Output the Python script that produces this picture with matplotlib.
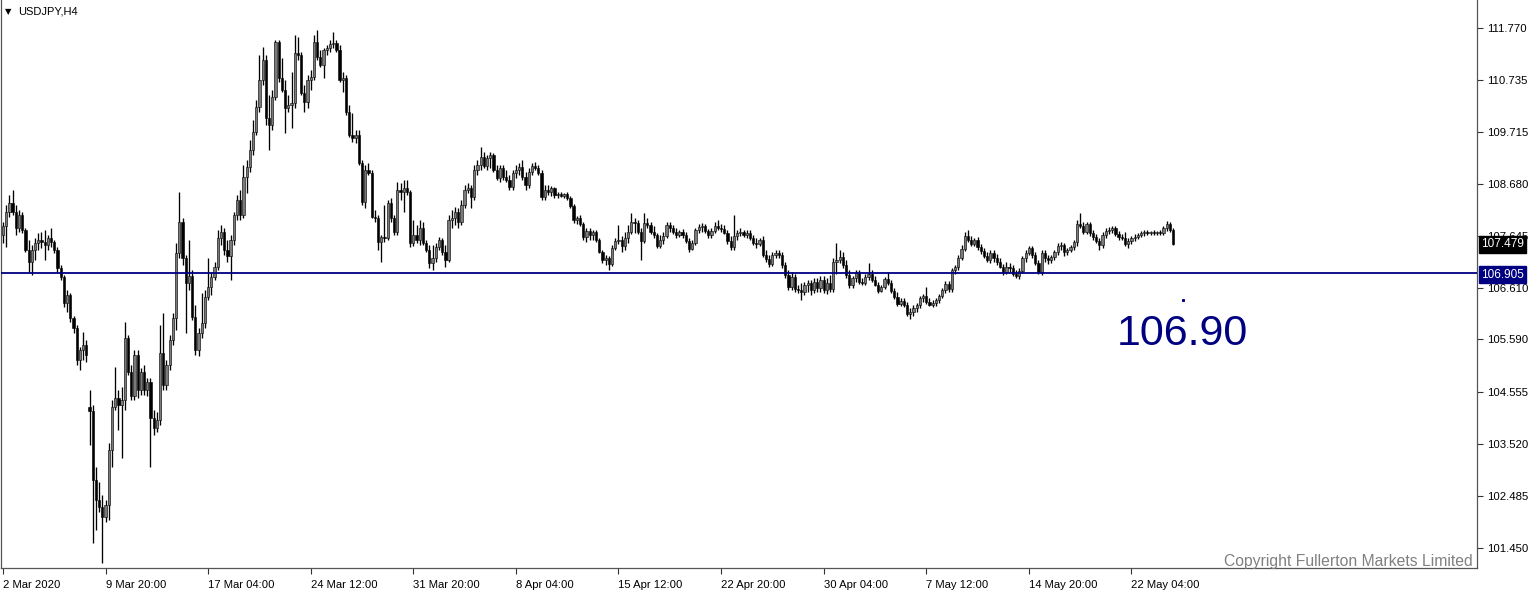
import matplotlib
matplotlib.use("Agg")
import matplotlib.pyplot as plt
from matplotlib.transforms import blended_transform_factory
import numpy as np

symbol_title = "USDJPY,H4"

opens = [
 107.66, 107.84, 108.12, 108.30, 108.12, 107.80, 108.06, 107.76, 107.36, 107.13,
 107.36, 107.50, 107.56, 107.52, 107.46, 107.60, 107.52, 107.36, 107.01, 106.83,
 106.31, 106.47, 106.01, 105.82, 105.18, 105.38, 105.48, 104.25, 104.17, 102.80,
 102.40, 102.26, 102.07, 102.30, 103.40, 104.25, 104.43, 104.29, 104.39, 105.62,
 104.94, 104.47, 105.28, 104.59, 104.94, 104.59, 104.74, 104.03, 103.83, 103.99,
 105.32, 104.69, 105.08, 105.58, 106.01, 107.30, 107.92, 107.21, 106.71, 106.85,
 106.03, 105.38, 105.72, 105.92, 106.43, 106.63, 106.83, 107.03, 107.60, 107.72,
 107.36, 107.25, 107.56, 108.06, 108.36, 108.06, 108.81, 109.01, 109.35, 109.71,
 110.20, 110.74, 111.14, 109.98, 109.85, 110.40, 111.49, 110.78, 110.54, 110.18,
 110.24, 110.28, 111.27, 111.23, 110.48, 110.30, 110.74, 110.80, 111.49, 111.19,
 111.04, 111.33, 111.37, 111.45, 111.47, 111.33, 110.74, 110.78, 110.10, 109.65,
 109.59, 109.65, 109.09, 108.32, 108.95, 108.89, 108.02, 108.00, 107.52, 107.62,
 107.60, 108.30, 108.00, 107.72, 108.56, 108.52, 108.59, 108.52, 107.50, 107.66,
 107.56, 107.80, 107.50, 107.36, 107.11, 107.21, 107.42, 107.56, 107.32, 107.17,
 107.96, 108.00, 108.12, 107.92, 108.26, 108.56, 108.59, 108.42, 108.95, 109.05,
 109.21, 109.03, 109.19, 109.25, 108.95, 108.79, 108.99, 108.81, 108.75, 108.61,
 108.89, 108.95, 109.01, 108.81, 108.65, 108.91, 109.03, 108.99, 108.89, 108.42,
 108.56, 108.52, 108.59, 108.46, 108.48, 108.44, 108.48, 108.40, 108.24, 107.96,
 108.00, 107.88, 107.62, 107.74, 107.66, 107.72, 107.56, 107.32, 107.17, 107.21,
 107.09, 107.40, 107.54, 107.56, 107.44, 107.60, 107.72, 107.92, 107.90, 107.72,
 107.54, 107.90, 107.86, 107.72, 107.66, 107.44, 107.56, 107.64, 107.86, 107.80,
 107.72, 107.66, 107.72, 107.66, 107.54, 107.38, 107.50, 107.76, 107.82, 107.84,
 107.74, 107.66, 107.74, 107.84, 107.80, 107.78, 107.70, 107.54, 107.42, 107.64,
 107.70, 107.72, 107.66, 107.70, 107.60, 107.50, 107.48, 107.56, 107.27, 107.19,
 107.09, 107.27, 107.30, 107.27, 107.07, 106.87, 106.63, 106.83, 106.59, 106.57,
 106.53, 106.67, 106.71, 106.57, 106.73, 106.61, 106.77, 106.57, 106.71, 106.59,
 107.13, 107.17, 107.23, 107.07, 106.87, 106.67, 106.81, 106.91, 106.73, 106.71,
 106.83, 106.89, 106.77, 106.67, 106.55, 106.63, 106.79, 106.71, 106.55, 106.43,
 106.29, 106.35, 106.27, 106.09, 106.13, 106.21, 106.27, 106.41, 106.45, 106.33,
 106.27, 106.31, 106.37, 106.45, 106.57, 106.69, 106.59, 106.97, 107.03, 107.21,
 107.38, 107.64, 107.56, 107.48, 107.56, 107.42, 107.34, 107.25, 107.17, 107.30,
 107.21, 107.13, 107.03, 106.93, 107.03, 107.01, 106.89, 106.85, 106.95, 107.21,
 107.30, 107.40, 107.27, 107.11, 106.93, 107.30, 107.21, 107.17, 107.23, 107.32,
 107.44, 107.46, 107.32, 107.36, 107.42, 107.52, 107.88, 107.84, 107.72, 107.88,
 107.70, 107.62, 107.54, 107.46, 107.66, 107.74, 107.76, 107.80, 107.68, 107.62,
 107.60, 107.48, 107.54, 107.60, 107.62, 107.66, 107.70, 107.72, 107.70, 107.72,
 107.70, 107.72, 107.70, 107.80, 107.88, 107.76,
]

highs = [
 107.92, 108.26, 108.46, 108.56, 108.26, 108.16, 108.12, 107.80, 107.56, 107.46,
 107.60, 107.70, 107.72, 107.76, 107.66, 107.80, 107.56, 107.42, 107.07, 106.87,
 106.57, 106.51, 106.05, 105.88, 105.44, 105.74, 105.58, 104.59, 104.29, 103.06,
 102.76, 102.50, 102.40, 103.53, 104.39, 105.04, 104.59, 104.65, 105.94, 105.68,
 105.08, 105.38, 105.38, 105.02, 105.08, 104.82, 104.82, 104.19, 104.15, 105.88,
 106.11, 105.18, 105.68, 106.11, 107.50, 108.52, 108.00, 107.27, 107.56, 106.97,
 106.27, 105.82, 106.51, 106.57, 107.21, 106.93, 107.13, 107.76, 107.86, 107.80,
 107.56, 107.66, 108.12, 108.46, 108.56, 109.05, 109.15, 109.55, 109.94, 110.34,
 111.23, 111.39, 111.23, 110.44, 110.54, 111.53, 111.53, 111.17, 110.74, 110.44,
 110.90, 111.63, 111.59, 111.29, 110.64, 110.84, 110.94, 111.63, 111.73, 111.33,
 111.37, 111.43, 111.53, 111.69, 111.53, 111.43, 110.90, 110.84, 110.24, 110.08,
 109.75, 109.75, 109.15, 109.05, 109.09, 108.95, 108.16, 108.06, 107.66, 108.26,
 108.36, 108.40, 108.06, 108.71, 108.69, 108.75, 108.75, 108.56, 107.96, 107.86,
 107.96, 107.92, 107.56, 107.46, 107.46, 107.50, 107.62, 107.60, 107.46, 108.06,
 108.16, 108.22, 108.20, 108.36, 108.65, 108.69, 108.65, 109.05, 109.15, 109.41,
 109.31, 109.25, 109.31, 109.29, 109.05, 109.05, 109.05, 108.95, 108.85, 108.95,
 109.05, 109.09, 109.15, 108.91, 108.99, 109.09, 109.11, 109.05, 108.95, 108.65,
 108.65, 108.63, 108.61, 108.52, 108.52, 108.50, 108.52, 108.44, 108.28, 108.04,
 108.06, 107.92, 107.80, 107.80, 107.76, 107.76, 107.60, 107.36, 107.27, 107.25,
 107.46, 107.60, 107.86, 107.64, 107.72, 107.86, 108.10, 108.00, 107.96, 107.80,
 108.10, 108.00, 107.92, 107.84, 107.70, 107.66, 107.72, 107.92, 107.92, 107.86,
 107.80, 107.76, 107.78, 107.72, 107.60, 107.56, 107.80, 107.88, 107.90, 107.88,
 107.78, 107.80, 107.92, 107.96, 107.88, 107.86, 107.76, 107.64, 108.06, 107.76,
 107.80, 107.76, 107.76, 107.76, 107.66, 107.60, 107.60, 107.64, 107.36, 107.27,
 107.32, 107.36, 107.36, 107.32, 107.13, 106.97, 106.93, 106.89, 106.67, 106.71,
 106.73, 106.77, 106.77, 106.81, 106.81, 106.85, 106.85, 106.81, 106.87, 107.21,
 107.50, 107.36, 107.32, 107.17, 106.97, 106.85, 106.97, 106.97, 106.81, 106.89,
 107.11, 106.97, 106.85, 106.73, 106.67, 106.83, 106.93, 106.77, 106.61, 106.53,
 106.41, 106.41, 106.33, 106.21, 106.27, 106.31, 106.45, 106.49, 106.63, 106.41,
 106.37, 106.41, 106.49, 106.61, 106.75, 106.75, 107.01, 107.07, 107.27, 107.46,
 107.72, 107.76, 107.64, 107.60, 107.62, 107.48, 107.40, 107.32, 107.36, 107.36,
 107.29, 107.21, 107.09, 107.13, 107.11, 107.07, 106.97, 107.01, 107.25, 107.36,
 107.44, 107.44, 107.32, 107.17, 107.36, 107.36, 107.27, 107.27, 107.36, 107.50,
 107.52, 107.50, 107.40, 107.46, 107.56, 107.96, 108.10, 107.92, 107.92, 107.92,
 107.76, 107.68, 107.60, 107.72, 107.80, 107.82, 107.84, 107.84, 107.74, 107.68,
 107.72, 107.60, 107.64, 107.68, 107.70, 107.74, 107.76, 107.76, 107.74, 107.76,
 107.74, 107.76, 107.84, 107.94, 107.92, 107.80,
]

lows = [
 107.50, 107.42, 108.02, 108.06, 107.66, 107.72, 107.70, 107.32, 106.93, 106.87,
 107.17, 107.36, 107.40, 107.17, 107.36, 107.42, 107.30, 106.93, 106.77, 106.23,
 106.13, 105.94, 105.72, 105.08, 104.98, 105.18, 105.14, 103.49, 101.55, 101.81,
 102.16, 101.15, 101.97, 102.01, 103.06, 104.19, 103.79, 103.24, 104.19, 104.88,
 104.39, 104.39, 104.43, 104.49, 104.49, 104.47, 103.06, 103.69, 103.75, 103.89,
 104.59, 104.59, 104.98, 105.48, 105.78, 107.21, 107.07, 105.72, 106.57, 105.98,
 105.28, 105.26, 105.62, 105.82, 106.37, 106.47, 106.77, 106.97, 107.46, 107.27,
 107.13, 106.77, 107.46, 107.96, 107.96, 108.00, 108.50, 108.91, 109.25, 109.65,
 110.10, 110.64, 109.85, 109.35, 109.75, 110.34, 110.70, 110.50, 109.69, 110.10,
 109.79, 110.18, 111.14, 110.44, 110.10, 110.18, 110.54, 110.74, 111.14, 111.00,
 110.78, 111.23, 111.29, 111.37, 111.29, 110.70, 110.50, 110.04, 109.61, 109.51,
 109.49, 109.05, 108.26, 108.20, 108.85, 108.00, 107.92, 107.36, 107.13, 107.52,
 107.56, 107.92, 107.66, 107.66, 108.36, 108.12, 108.46, 107.42, 107.44, 107.50,
 107.46, 107.46, 107.32, 107.01, 106.97, 107.13, 107.36, 107.27, 107.03, 107.13,
 107.80, 107.86, 107.80, 107.86, 108.20, 108.50, 108.20, 108.36, 108.85, 108.95,
 108.99, 108.95, 108.99, 108.91, 108.75, 108.71, 108.75, 108.71, 108.56, 108.56,
 108.79, 108.85, 108.75, 108.56, 108.59, 108.85, 108.95, 108.85, 108.36, 108.36,
 108.46, 108.44, 108.40, 108.40, 108.42, 108.40, 108.36, 108.20, 107.90, 107.88,
 107.84, 107.56, 107.52, 107.56, 107.56, 107.52, 107.30, 107.11, 107.07, 106.97,
 107.05, 107.36, 107.48, 107.32, 107.36, 107.50, 107.68, 107.70, 107.68, 107.17,
 107.50, 107.80, 107.68, 107.60, 107.40, 107.40, 107.48, 107.60, 107.72, 107.68,
 107.60, 107.62, 107.60, 107.50, 107.32, 107.36, 107.46, 107.70, 107.72, 107.70,
 107.60, 107.60, 107.70, 107.76, 107.72, 107.68, 107.48, 107.36, 107.36, 107.56,
 107.64, 107.62, 107.60, 107.56, 107.46, 107.40, 107.44, 107.23, 107.13, 107.03,
 107.05, 107.21, 107.21, 107.01, 106.81, 106.57, 106.57, 106.53, 106.51, 106.37,
 106.47, 106.53, 106.47, 106.51, 106.53, 106.53, 106.51, 106.49, 106.53, 106.53,
 106.89, 107.11, 107.01, 106.81, 106.61, 106.61, 106.73, 106.69, 106.67, 106.67,
 106.77, 106.73, 106.65, 106.51, 106.53, 106.59, 106.67, 106.51, 106.39, 106.25,
 106.25, 106.23, 106.05, 105.99, 106.05, 106.13, 106.21, 106.33, 106.29, 106.25,
 106.23, 106.25, 106.31, 106.41, 106.51, 106.53, 106.53, 106.89, 106.97, 107.17,
 107.34, 107.52, 107.44, 107.44, 107.36, 107.29, 107.21, 107.13, 107.11, 107.13,
 107.07, 107.01, 106.87, 106.89, 106.93, 106.85, 106.81, 106.79, 106.91, 107.13,
 107.27, 107.21, 107.07, 106.89, 106.87, 107.13, 107.09, 107.11, 107.17, 107.27,
 107.36, 107.25, 107.27, 107.32, 107.36, 107.44, 107.80, 107.68, 107.68, 107.64,
 107.56, 107.50, 107.36, 107.40, 107.60, 107.68, 107.70, 107.64, 107.56, 107.56,
 107.44, 107.40, 107.48, 107.54, 107.58, 107.62, 107.64, 107.66, 107.66, 107.66,
 107.66, 107.66, 107.66, 107.74, 107.72, 107.46,
]

closes = [
 107.84, 108.12, 108.30, 108.12, 107.80, 108.06, 107.76, 107.36, 107.13, 107.36,
 107.50, 107.56, 107.52, 107.46, 107.60, 107.52, 107.36, 107.01, 106.83, 106.31,
 106.47, 106.01, 105.82, 105.18, 105.38, 105.48, 105.28, 104.17, 102.80, 102.40,
 102.26, 102.07, 102.30, 103.40, 104.25, 104.43, 104.29, 104.39, 105.62, 104.94,
 104.47, 105.28, 104.59, 104.94, 104.59, 104.74, 104.03, 103.83, 103.99, 105.32,
 104.69, 105.08, 105.58, 106.01, 107.30, 107.92, 107.21, 106.71, 106.85, 106.03,
 105.38, 105.72, 105.92, 106.43, 106.63, 106.83, 107.03, 107.60, 107.72, 107.36,
 107.25, 107.56, 108.06, 108.36, 108.06, 108.81, 109.01, 109.35, 109.71, 110.20,
 110.74, 111.14, 109.98, 109.85, 110.40, 111.49, 110.78, 110.54, 110.18, 110.24,
 110.28, 111.27, 111.23, 110.48, 110.30, 110.74, 110.80, 111.49, 111.19, 111.04,
 111.33, 111.37, 111.45, 111.47, 111.33, 110.74, 110.78, 110.10, 109.65, 109.59,
 109.65, 109.09, 108.32, 108.95, 108.89, 108.02, 108.00, 107.52, 107.62, 107.60,
 108.30, 108.00, 107.72, 108.56, 108.52, 108.59, 108.52, 107.50, 107.66, 107.56,
 107.80, 107.50, 107.36, 107.11, 107.21, 107.42, 107.56, 107.32, 107.17, 107.96,
 108.00, 108.12, 107.92, 108.26, 108.56, 108.59, 108.42, 108.95, 109.05, 109.21,
 109.03, 109.19, 109.25, 108.95, 108.79, 108.99, 108.81, 108.75, 108.61, 108.89,
 108.95, 109.01, 108.81, 108.65, 108.91, 109.03, 108.99, 108.89, 108.42, 108.56,
 108.52, 108.59, 108.46, 108.48, 108.44, 108.48, 108.40, 108.24, 107.96, 108.00,
 107.88, 107.62, 107.74, 107.66, 107.72, 107.56, 107.32, 107.17, 107.21, 107.09,
 107.40, 107.54, 107.56, 107.44, 107.60, 107.72, 107.92, 107.90, 107.72, 107.54,
 107.90, 107.86, 107.72, 107.66, 107.44, 107.56, 107.64, 107.86, 107.80, 107.72,
 107.66, 107.72, 107.66, 107.54, 107.38, 107.50, 107.76, 107.82, 107.84, 107.74,
 107.66, 107.74, 107.84, 107.80, 107.78, 107.70, 107.54, 107.42, 107.64, 107.70,
 107.72, 107.66, 107.70, 107.60, 107.50, 107.48, 107.56, 107.27, 107.19, 107.09,
 107.27, 107.30, 107.27, 107.07, 106.87, 106.63, 106.83, 106.59, 106.57, 106.53,
 106.67, 106.71, 106.57, 106.73, 106.61, 106.77, 106.57, 106.71, 106.59, 107.13,
 107.17, 107.23, 107.07, 106.87, 106.67, 106.81, 106.91, 106.73, 106.71, 106.83,
 106.89, 106.77, 106.67, 106.55, 106.63, 106.79, 106.71, 106.55, 106.43, 106.29,
 106.35, 106.27, 106.09, 106.13, 106.21, 106.27, 106.41, 106.45, 106.33, 106.27,
 106.31, 106.37, 106.45, 106.57, 106.69, 106.59, 106.97, 107.03, 107.21, 107.38,
 107.64, 107.56, 107.48, 107.56, 107.42, 107.34, 107.25, 107.17, 107.30, 107.21,
 107.13, 107.03, 106.93, 107.03, 107.01, 106.89, 106.85, 106.95, 107.21, 107.30,
 107.40, 107.27, 107.11, 106.93, 107.30, 107.21, 107.17, 107.23, 107.32, 107.44,
 107.46, 107.32, 107.36, 107.42, 107.52, 107.88, 107.84, 107.72, 107.88, 107.70,
 107.62, 107.54, 107.46, 107.66, 107.74, 107.76, 107.80, 107.68, 107.62, 107.60,
 107.48, 107.54, 107.60, 107.62, 107.66, 107.70, 107.72, 107.70, 107.72, 107.70,
 107.72, 107.70, 107.80, 107.88, 107.76, 107.479,
]

x_tick_bars = [0, 32, 64, 96, 128, 160, 192, 224, 256, 288, 320, 352]
x_tick_labels = ["2 Mar 2020", "9 Mar 20:00", "17 Mar 04:00", "24 Mar 12:00",
                 "31 Mar 20:00", "8 Apr 04:00", "15 Apr 12:00", "22 Apr 20:00",
                 "30 Apr 04:00", "7 May 12:00", "14 May 20:00", "22 May 04:00"]
y_ticks = [111.770, 110.735, 109.715, 108.680, 107.645, 106.610,
           105.590, 104.555, 103.520, 102.485, 101.450]

level_price = 106.905
level_text = "106.90"
last_price = 107.479
copyright_text = "Copyright Fullerton Markets Limited"

# ---------------------------------------------------------------- figure
W, H = 1536, 597
fig = plt.figure(figsize=(W / 100, H / 100), dpi=100)
fig.patch.set_facecolor("white")
ax = fig.add_axes([1 / W, (H - 568) / H, 1476 / W, 568 / H])
ax.set_facecolor("white")

o = np.array(opens)
h = np.array(highs)
l = np.array(lows)
c = np.array(closes)
idx = np.arange(len(c))
up = c >= o

ax.vlines(idx, l, h, color="black", linewidth=0.95, zorder=2)
bottom = np.minimum(o, c)
height = np.maximum(np.abs(c - o), 0.014)
ax.bar(idx[up], height[up], bottom=bottom[up], width=0.7,
       color="#7a7a7a", edgecolor="black", linewidth=0.4, zorder=3)
ax.bar(idx[~up], height[~up], bottom=bottom[~up], width=0.7,
       color="black", edgecolor="black", linewidth=0.4, zorder=3)

# level line
ax.axhline(level_price, color="#000080", linewidth=1.3, zorder=4)

# axes limits (pixel-matched)
ax.set_xlim(-0.62, 459.8)
ax.set_ylim(101.053, 112.326)

# y axis on right
ax.yaxis.tick_right()
ax.set_yticks(y_ticks)
ax.set_yticklabels([f"{v:.3f}" for v in y_ticks], fontsize=8.2,
                   family="Liberation Sans")
ax.tick_params(axis="y", direction="out", length=4, width=0.8,
               colors="#333333", pad=3, labelcolor="black")

ax.set_xticks(x_tick_bars)
ax.set_xticklabels(x_tick_labels, fontsize=8.1, family="Liberation Sans")
for lab in ax.get_xticklabels():
    lab.set_horizontalalignment("left")
ax.tick_params(axis="x", direction="out", length=4, width=0.8,
               colors="#333333", pad=5, labelcolor="black")

for side in ["left", "right", "bottom"]:
    ax.spines[side].set_color("#555555")
    ax.spines[side].set_linewidth(0.9)
ax.spines["top"].set_visible(False)

# price boxes on the right axis
tr = blended_transform_factory(ax.transAxes, ax.transData)
ax.text(1.0 + 4 / 1476, last_price, f"{last_price:.3f}", transform=tr,
        ha="left", va="center", fontsize=8.5, family="Liberation Sans",
        color="white", zorder=10, clip_on=False,
        bbox=dict(boxstyle="square,pad=0.2", fc="black", ec="black"))
ax.text(1.0 + 4 / 1476, level_price - 0.03, f"{level_price:.3f}", transform=tr,
        ha="left", va="center", fontsize=8.5, family="Liberation Sans",
        color="white", zorder=10, clip_on=False,
        bbox=dict(boxstyle="square,pad=0.2", fc="#000080", ec="#000080"))

# big level annotation
ax.text(347.5, 105.48, level_text, ha="left", va="baseline",
        fontsize=31, family="Liberation Sans", color="#000080", zorder=6)
ax.plot([368], [106.37], marker="s", markersize=1.2, color="#000080",
        zorder=6)

# copyright
ax.text(0.9973, 0.011, copyright_text, transform=ax.transAxes,
        ha="right", va="center", fontsize=11.3, family="Liberation Sans",
        color="#808080", zorder=6)

# symbol title
fig.text(5 / W, 1 - 12 / H, "\u25BC", fontsize=6, family="DejaVu Sans",
         ha="left", va="center", color="black")
fig.text(18 / W, 1 - 12 / H, symbol_title, fontsize=8,
         family="Liberation Sans", ha="left", va="center", color="black")

fig.savefig("out.png", dpi=100, facecolor="white")
